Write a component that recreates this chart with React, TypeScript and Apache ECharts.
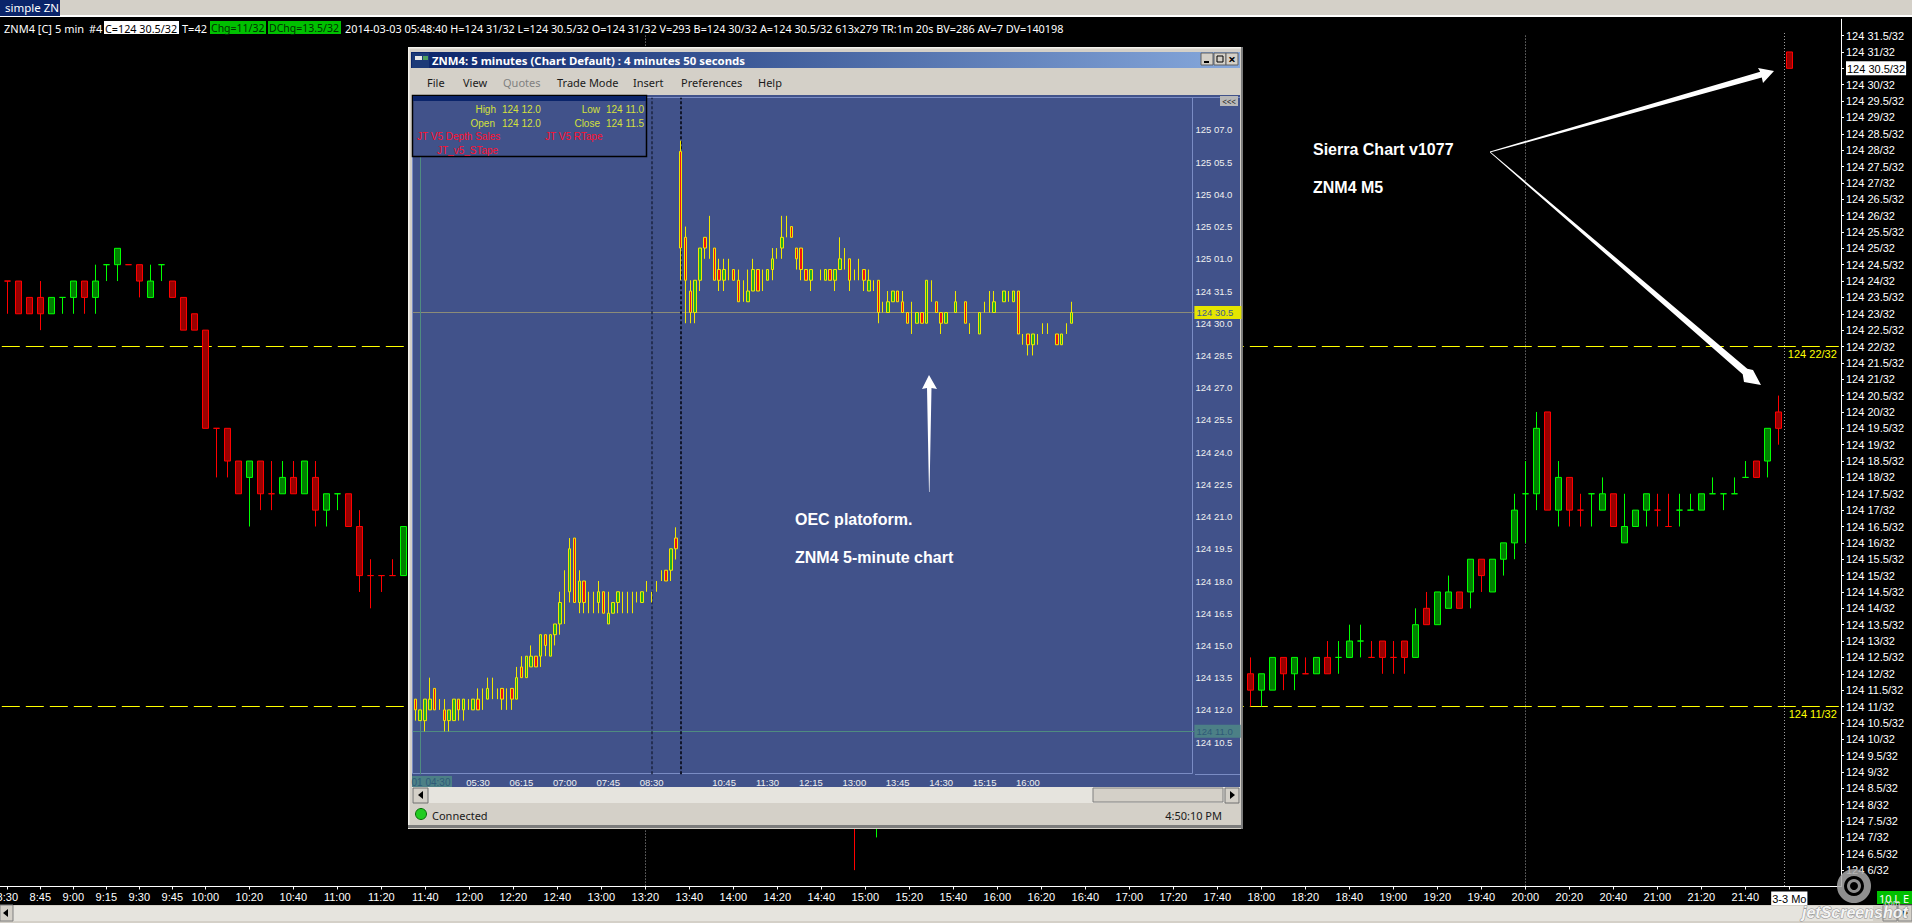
import React, { useEffect, useRef } from "react";
import * as echarts from "echarts";

// ---------- main (Sierra Chart) values: prices are 32nds above 124 ----------
const mainYMin = 5.5;
const mainYMax = 32;
const highlightedTick = 30.5;
// [open, close, low, high, direction]
const mainBarsLeft: number[][] = [
  [24, 24, 23, 24, -1], [24, 23, 23, 24, -1], [23.5, 23, 23, 23.5, -1], [23.5, 23, 22.5, 24, -1],
  [23, 23.5, 23, 23.5, 1], [23.5, 23.5, 23, 23.5, 1], [23.5, 24, 23, 24, 1], [24, 23.5, 23, 24, -1],
  [23.5, 24, 23, 24.5, 1], [24.5, 24.5, 24, 24.5, 1], [24.5, 25, 24, 25, 1], [24.5, 24.5, 24.5, 24.5, -1],
  [24.5, 24, 23.5, 24.5, -1], [23.5, 24, 23.5, 24.5, 1], [24.5, 24.5, 24, 24.5, 1], [24, 23.5, 23.5, 24, -1],
  [23.5, 22.5, 22.5, 23.5, -1], [23, 22.5, 22.5, 23, -1], [22.5, 19.5, 19.5, 22.5, -1], [19.5, 19.5, 18, 19.5, -1],
  [19.5, 18.5, 18, 19.5, -1], [18.5, 17.5, 17.5, 18.5, -1], [18, 18.5, 16.5, 18.5, 1], [18.5, 17.5, 17, 18.5, -1],
  [17.5, 17.5, 17, 18.5, -1], [17.5, 18, 17.5, 18.5, 1], [18, 17.5, 17.5, 18.5, -1], [17.5, 18.5, 17.5, 18.5, 1],
  [18, 17, 16.5, 18.5, -1], [17, 17.5, 16.5, 17.5, 1], [17.5, 17.5, 17, 17.5, 1], [17.5, 16.5, 16.5, 17.5, -1],
  [16.5, 15, 14.5, 17, -1], [15, 15, 14, 15.5, -1], [15, 15, 14.5, 15, -1], [15, 15, 15, 15.5, -1],
  [15, 16.5, 15, 16.5, 1],
];
// bars mostly hidden behind the floating window: only their lower wicks peek out
const mainBarsPeek: Record<number, number[]> = {
  77: [8, 7.5, 6, 8.5, -1],
  79: [7.5, 8, 7, 8, 1],
};
const mainBarsRightStart = 113;
const mainBarsRight: number[][] = [
  [12, 11.5, 11, 12.5, -1], [11.5, 12, 11, 12, 1], [11.5, 12.5, 11.5, 12.5, 1], [12.5, 12, 11.5, 12.5, -1],
  [12, 12.5, 11.5, 12.5, 1], [12, 12, 12, 12.5, -1], [12, 12.5, 12, 12.5, 1], [12.5, 12, 12, 13, -1],
  [12.5, 12.5, 12, 13, 1], [12.5, 13, 12.5, 13.5, 1], [13, 13, 12.5, 13.5, 1], [12.5, 12.5, 12.5, 13, -1],
  [13, 12.5, 12, 13, -1], [12.5, 12.5, 12, 13, -1], [13, 12.5, 12, 13, -1], [12.5, 13.5, 12.5, 14, 1],
  [14, 13.5, 13.5, 14.5, -1], [13.5, 14.5, 13.5, 14.5, 1], [14, 14.5, 14, 15, 1], [14.5, 14, 14, 14.5, -1],
  [14.5, 15.5, 14, 15.5, 1], [15.5, 15, 14.5, 15.5, -1], [14.5, 15.5, 14.5, 15.5, 1], [15.5, 16, 15, 16, 1],
  [16, 17, 15.5, 17.5, 1], [17.5, 17.5, 16, 18.5, 1], [17.5, 19.5, 17, 20, 1], [20, 17, 17, 20, -1],
  [17, 18, 16.5, 18.5, 1], [18, 17, 16.5, 18, -1], [17, 17, 16.5, 17.5, -1], [17.5, 17.5, 16.5, 17.5, 1],
  [17, 17.5, 17, 18, 1], [17.5, 16.5, 16.5, 17.5, -1], [16, 16.5, 16, 17.5, 1], [16.5, 17, 16.5, 17, 1],
  [17, 17.5, 16.5, 17.5, 1], [17, 17, 16.5, 17.5, -1], [16.5, 16.5, 16.5, 17.5, -1], [17, 17, 16.5, 17.5, 1],
  [17, 17, 17, 17.5, 1], [17, 17.5, 17, 17.5, 1], [17.5, 17.5, 17.5, 18, 1], [17.5, 17.5, 17, 17.5, 1],
  [17.5, 17.5, 17.5, 18, 1], [18, 18, 18, 18.5, 1], [18.5, 18, 18, 18.5, -1], [18.5, 19.5, 18, 19.5, 1],
  [20, 19.5, 19, 20.5, -1], [31, 30.5, 30.5, 31, -1],
];
const levelLines = [
  { value: 22, label: "124 22/32" },
  { value: 11, label: "124 11/32" },
];
const dottedBarIndexes = [58, 138];

// x axis of the main chart: one category per 5 minute bar, starting at 8:30
const mainCategoryCount = 167;
const mainFirstMinute = 8 * 60 + 30;
const dateBreakLabel = "3-3 Mo";
const dateBreakIndex = 162;
const mainCategories: string[] = [];
for (let i = 0; i < mainCategoryCount; i++) {
  const m = mainFirstMinute + i * 5;
  mainCategories.push(
    i === dateBreakIndex ? dateBreakLabel : `${Math.floor(m / 60)}:${String(m % 60).padStart(2, "0")}`,
  );
}
const isMainTick = (i: number) => i <= dateBreakIndex && (i <= 18 ? i % 3 === 0 : (i - 18) % 4 === 0);

// ---------- OEC window chart values: 32nds above 124 as well ----------
const innerYMin = 9;
const innerYMax = 40.5;
const innerCurrent = 30.5;
const innerLow = 11;
const innerCategoryCount = 162;
const innerTickLabels: Record<number, string> = {
  13: "05:30", 22: "06:15", 31: "07:00", 40: "07:45", 49: "08:30", 64: "10:45", 73: "11:30",
  82: "12:15", 91: "13:00", 100: "13:45", 109: "14:30", 118: "15:15", 127: "16:00",
};
// [open, close, low, high, kind] where kind is R red body, G green body, L plain line
type Inner = [number, number, number, number, string] | null;
const innerBars: Inner[] = [
  [12.5, 12, 11.5, 12.5, "R"], [11.5, 12, 11.5, 12, "G"], [11.5, 12.5, 11, 12.5, "G"], [12, 12.5, 12, 13.5, "G"],
  [13, 12, 12, 13, "R"], [12, 12, 12, 12.5, "L"], [12, 11.5, 11, 12.5, "R"], [11.5, 12, 11, 12, "G"],
  [11.5, 12.5, 11.5, 12.5, "G"], [12.5, 12, 11.5, 12.5, "R"], [12, 12.5, 11.5, 12.5, "G"], [12, 12, 12, 12.5, "L"],
  [12, 12.5, 12, 12.5, "G"], [12.5, 12, 12, 13, "R"], [12, 12, 12, 13, "L"], [12.5, 13, 12.5, 13.5, "G"],
  [12.5, 12.5, 12.5, 13.5, "L"], [12.5, 12.5, 12.5, 13, "L"], [13, 12.5, 12, 13, "R"], [12, 12, 12, 13, "L"],
  [13, 12.5, 12, 13, "R"], [12.5, 13.5, 12.5, 14, "G"], [14, 13.5, 13.5, 14.5, "R"], [13.5, 14.5, 13.5, 14.5, "G"],
  [14, 14.5, 14, 15, "G"], [14.5, 14, 14, 14.5, "R"], [14.5, 15.5, 14, 15.5, "G"], [15.5, 15, 14.5, 15.5, "R"],
  [14.5, 15.5, 14.5, 15.5, "G"], [15.5, 16, 15, 16, "G"], [16, 17, 15.5, 17.5, "G"], [16, 16, 16, 18.5, "L"],
  [17.5, 19.5, 17, 20, "G"], [20, 17, 17, 20, "R"], [17, 18, 16.5, 18.5, "G"], [18, 17, 16.5, 18, "R"],
  [16.5, 16.5, 16.5, 17.5, "L"], [16.5, 16.5, 16.5, 17.5, "L"], [17, 17.5, 16.5, 18, "G"], [17.5, 16.5, 16.5, 17.5, "R"],
  [16, 16.5, 16, 17.5, "G"], [16.5, 17, 16.5, 17, "G"], [17, 17.5, 16.5, 17.5, "G"], [16.5, 16.5, 16.5, 17.5, "L"],
  [16.5, 16.5, 16.5, 17.5, "L"], [16.5, 16.5, 16.5, 17.5, "L"], [17, 17, 17, 17.5, "L"], [17, 17.5, 17, 17.5, "G"],
  [17.5, 17.5, 17.5, 18, "L"], [17, 17, 17, 17.5, "L"], [17.5, 17.5, 17.5, 18, "L"], [18, 18, 18, 18.5, "L"],
  [18.5, 18, 18, 18.5, "R"], [18.5, 19.5, 18, 19.5, "G"], [20, 19.5, 19, 20.5, "R"],
  [38, 33.5, 32, 38.5, "R"], [34, 32, 30, 34.5, "R"], [31.5, 30.5, 30, 32, "R"], [30.5, 32, 30, 32, "G"],
  [32, 33.5, 31.5, 33.5, "G"], [34, 33.5, 33, 34, "R"], [33, 33, 33, 35, "L"], [33.5, 32, 32, 33.5, "R"],
  [32.5, 32, 31.5, 33, "R"], [32, 32.5, 31.5, 33, "G"], [32, 32, 32, 33, "L"], [32.5, 32, 32, 32.5, "R"],
  [32, 31, 31, 32.5, "R"], [31, 31, 31, 32, "L"], [31, 31.5, 31, 32.5, "G"], [31.5, 32.5, 31.5, 33, "G"],
  [32.5, 31.5, 31.5, 32.5, "R"], [31.5, 31.5, 31.5, 32.5, "L"], [32, 32.5, 32, 32.5, "G"], [32.5, 33, 32, 33.5, "G"],
  [33, 33, 33, 33.5, "L"], [33.5, 34, 33, 35, "G"], [34, 34, 34, 35, "L"], [34.5, 34, 34, 34.5, "R"],
  [33.5, 33, 32.5, 33.5, "R"], [33.5, 32.5, 32, 33.5, "R"], [32.5, 32, 32, 32.5, "R"], [32, 32.5, 31.5, 32.5, "G"],
  null,
  [32, 32, 32, 32.5, "L"], [32, 32.5, 32, 32.5, "G"], [32.5, 32, 32, 32.5, "R"], [32, 32.5, 31.5, 32.5, "G"],
  [32.5, 33, 32.5, 34, "G"], [32.5, 32.5, 32.5, 33.5, "L"], [33, 32, 31.5, 33, "R"], [32, 32, 32, 32.5, "L"],
  [32, 32, 32, 33, "L"], [32.5, 32, 31.5, 32.5, "R"], [31.5, 32, 31.5, 32.5, "G"], [31.5, 31.5, 31.5, 32, "L"],
  [32, 30.5, 30, 32, "R"], [30.5, 30.5, 30.5, 31, "L"], [30.5, 31, 30.5, 31.5, "G"], [31, 31.5, 31, 31.5, "G"],
  [31.5, 31, 31, 31.5, "R"], [31, 30.5, 30.5, 31.5, "R"], [30.5, 30, 30, 30.5, "R"], [29.5, 29.5, 29.5, 31, "L"],
  [30, 30.5, 30, 30.5, "G"], [30.5, 30, 30, 30.5, "R"], [30, 32, 30, 32, "G"], [31, 31, 31, 32, "L"],
  [31, 30.5, 30.5, 31, "R"], [30.5, 30, 29.5, 30.5, "R"], [30, 30.5, 30, 30.5, "G"],
  null,
  [30.5, 31, 30.5, 31.5, "G"],
  null,
  [31, 30, 30, 31, "R"], [29.5, 29.5, 29.5, 30, "L"],
  null,
  [29.5, 30.5, 29.5, 30.5, "G"], [30.5, 30.5, 30.5, 31, "L"], [30.5, 30.5, 30.5, 31.5, "L"], [30.5, 31, 30.5, 31.5, "G"],
  null,
  [31, 31.5, 31, 31.5, "G"], [31, 31, 31, 31.5, "L"], [31, 31.5, 31, 31.5, "G"], [31.5, 29.5, 29.5, 31.5, "R"],
  [29, 29, 29, 29.5, "L"], [29.5, 29, 28.5, 29.5, "R"], [29, 29.5, 28.5, 29.5, "G"], [29, 29, 29, 29.5, "L"],
  [29.5, 29.5, 29.5, 30, "L"], [29.5, 29.5, 29.5, 30, "L"],
  null,
  [29.5, 29, 29, 29.5, "R"], [29, 29.5, 29, 29.5, "G"], [29.5, 29.5, 29.5, 30, "L"], [30, 30.5, 30, 31, "G"],
];

// ---------- texts ----------
const statusLeft = [
  { text: "ZNM4 [C]", x: 4 },
  { text: "5 min", x: 55 },
  { text: "#4", x: 89 },
];
const statusQuote = "C=124 30.5/32";
const statusTrades = "T=42";
const statusChg = "Chg=11/32";
const statusDChg = "DChg=13.5/32";
const statusRest =
  "2014-03-03 05:48:40 H=124 31/32 L=124 30.5/32 O=124 31/32 V=293 B=124 30/32 A=124 30.5/32 613x279 TR:1m 20s BV=286 AV=7 DV=140198";
const menuItems = [
  { text: "File", x: 427 },
  { text: "View", x: 463 },
  { text: "Quotes", x: 503, fill: "#808080" },
  { text: "Trade Mode", x: 557 },
  { text: "Insert", x: 633 },
  { text: "Preferences", x: 681 },
  { text: "Help", x: 758 },
];

const SANS = "'Noto Sans', sans-serif";
const SMALL = "'Liberation Sans', Arial, sans-serif";
const BOLD = "'Liberation Sans', Arial, sans-serif";
const SMALL_SIZE = 9.5;

const WINDOW_Z = 5;
const CHROME_Z = 9;
const TOP_Z = 20;

function rect(x: number, y: number, w: number, h: number, fill: any, z = CHROME_Z, extra: any = {}) {
  return { type: "rect", z, silent: true, shape: { x, y, width: w, height: h }, style: { fill, ...extra } };
}
function text(t: string, x: number, y: number, fill: string, opts: any = {}) {
  const { z = CHROME_Z, fontSize = 12, fontFamily = SANS, fontWeight = "normal", align = "left", fontStyle = "normal", stroke, lineWidth } = opts;
  return {
    type: "text", z, silent: true, x, y,
    style: {
      text: t, fill, fontSize, fontFamily, fontWeight, fontStyle, textAlign: align, textVerticalAlign: "middle",
      ...(stroke ? { stroke, lineWidth } : {}),
    },
  };
}
function poly(points: number[][], fill: any, z = TOP_Z) {
  return { type: "polygon", z, silent: true, shape: { points }, style: { fill } };
}

function buildGraphic() {
  const tan = "#d4d0c8";
  const e: any[] = [];
  // top tab strip and status line of the main window
  e.push(rect(0, 0, 1912, 15, tan, TOP_Z));
  e.push(rect(0, 15, 1912, 2, "#ffffff", TOP_Z));
  e.push(rect(0, 0, 60, 16, "#0a246a", TOP_Z));
  e.push(text("simple ZN", 5, 7, "#ffffff", { z: TOP_Z + 1, fontSize: 11.5 }));
  statusLeft.forEach((s) => e.push(text(s.text, s.x, 28, "#ffffff", { fontSize: 11, z: TOP_Z })));
  e.push(rect(104, 21, 75, 13, "#ffffff", TOP_Z));
  e.push(text(statusQuote, 105, 28, "#000000", { fontSize: 10.8, z: TOP_Z + 1 }));
  e.push(text(statusTrades, 182, 28, "#ffffff", { fontSize: 11, z: TOP_Z }));
  e.push(rect(210, 21, 56, 13, "#00c000", TOP_Z));
  e.push(text(statusChg, 211, 28, "#003000", { fontSize: 10.5, z: TOP_Z + 1 }));
  e.push(rect(268, 21, 73, 13, "#00c000", TOP_Z));
  e.push(text(statusDChg, 269, 28, "#003000", { fontSize: 10.5, z: TOP_Z + 1 }));
  e.push(text(statusRest, 345, 28, "#ffffff", { fontSize: 10.85, z: TOP_Z }));

  // extends the x axis line to the edges of the plot
  e.push({ type: "line", z: 1, silent: true, shape: { x1: 0, y1: 886.5, x2: 1841, y2: 886.5 }, style: { stroke: "#ffffff", lineWidth: 1 } });

  // bottom scrollbar, badge and watermark
  e.push(rect(0, 905, 1912, 18, tan, 3));
  e.push(rect(13, 906, 1860, 15, "#e6e4de", 3));
  e.push(rect(0, 905, 13, 16, tan, 3, { stroke: "#808080", lineWidth: 1 }));
  e.push(poly([[8, 909], [8, 917], [3, 913]], "#000000", 4));
  e.push(rect(1883, 905, 14, 16, tan, 3, { stroke: "#808080", lineWidth: 1 }));
  e.push(rect(1898, 905, 14, 16, tan, 3, { stroke: "#808080", lineWidth: 1 }));
  e.push(poly([[1903, 909], [1903, 917], [1908, 913]], "#000000", 4));
  e.push(rect(1877, 891, 35, 13, "#00c000", 3));
  e.push(text("10 L E", 1894, 898, "#ffffff", { align: "center", z: 4, fontSize: 11 }));
  e.push({ type: "ring", z: 4, silent: true, shape: { cx: 1854, cy: 886, r: 17, r0: 10 }, style: { fill: "#a8a8a8", opacity: 0.85 } });
  e.push({ type: "ring", z: 4, silent: true, shape: { cx: 1854, cy: 886, r: 7, r0: 4 }, style: { fill: "#a8a8a8", opacity: 0.85 } });
  e.push(text("jetScreenshot", 1802, 912, "#f4f4f4", { z: 4, fontSize: 16, fontWeight: "bold", fontStyle: "italic", fontFamily: BOLD, stroke: "#8c8c8c", lineWidth: 1 }));
  e.push(text(".com", 1882, 902, "#d8d8d8", { z: 4, fontSize: 8 }));

  // floating OEC window
  e.push(rect(408, 47, 835, 782, tan, WINDOW_Z));
  e.push(rect(408, 47, 835, 1.5, "#f4f2ec", WINDOW_Z));
  e.push(rect(408, 47, 1.5, 782, "#f4f2ec", WINDOW_Z));
  e.push(rect(408, 825, 835, 3, "#7c7c7c", WINDOW_Z));
  e.push(rect(1241, 47, 2, 782, "#7c7c7c", WINDOW_Z));
  e.push(rect(411, 52, 829, 16,
    new echarts.graphic.LinearGradient(0, 0, 1, 0, [{ offset: 0, color: "#0a246a" }, { offset: 1, color: "#86a8dc" }]),
    WINDOW_Z));
  e.push(rect(412, 53, 17, 15, "#1c3a78", CHROME_Z));
  e.push(rect(415, 56, 7, 4, "#e8e8e8", CHROME_Z));
  e.push(rect(423, 56, 5, 4, "#50a060", CHROME_Z));
  e.push(text("ZNM4: 5 minutes (Chart Default) : 4 minutes 50 seconds", 432, 60, "#ffffff", { fontSize: 11.4, fontWeight: "bold" }));
  // caption buttons
  [1201, 1214, 1226].forEach((x) => e.push(rect(x, 53, 12, 12, tan, CHROME_Z, { stroke: "#606060", lineWidth: 1 })));
  e.push(rect(1204, 61, 5, 2, "#000000"));
  e.push(rect(1217, 56, 6, 6, "none", CHROME_Z, { stroke: "#000000", lineWidth: 1 }));
  e.push(text("×", 1232, 59, "#000000", { align: "center", fontSize: 13, fontWeight: "bold" }));
  menuItems.forEach((m) => e.push(text(m.text, m.x, 82, m.fill ?? "#1a1a1a", { fontSize: 11 })));
  // chart surface
  e.push(rect(412, 95, 828, 692, "#41528a", WINDOW_Z));
  // frame of the plot and of the price column
  e.push(rect(412.5, 97.5, 780, 676, "none", 6, { stroke: "#7a8cc4", lineWidth: 1 }));
  e.push(rect(1195, 774, 45, 1, "#7a8cc4", 6));
  e.push(rect(1192, 97, 48, 1, "#7a8cc4", 6));
  // collapse button
  e.push(rect(1220, 96, 18, 10, "#b8b8b8", CHROME_Z));
  e.push(text("<<<", 1229, 101, "#202020", { align: "center", fontSize: 8 }));
  // OHLC info panel
  e.push(rect(412.5, 95.5, 234, 61, "#41528a", CHROME_Z, { stroke: "#000000", lineWidth: 1.5 }));
  e.push(rect(413, 96, 233, 5, "#0a246a", CHROME_Z));
  const ink = "#d4e03c";
  const redInk = "#ff1030";
  const small = { fontSize: 10, fontFamily: SMALL };
  e.push(text("High", 496, 109, ink, { ...small, align: "right" }));
  e.push(text("124 12.0", 502, 109, ink, small));
  e.push(text("Low", 600, 109, ink, { ...small, align: "right" }));
  e.push(text("124 11.0", 606, 109, ink, small));
  e.push(text("Open", 495, 123, ink, { ...small, align: "right" }));
  e.push(text("124 12.0", 502, 123, ink, small));
  e.push(text("Close", 600, 123, ink, { ...small, align: "right" }));
  e.push(text("124 11.5", 606, 123, ink, small));
  e.push(text("JT V5 Depth Sales", 417, 136, redInk, small));
  e.push(text("JT V5 RTape", 545, 136, redInk, small));
  e.push(text("JT_v5_STape", 437, 150, redInk, small));
  // first date label on the time scale
  e.push(rect(412, 776, 40, 11, "#4c8086", CHROME_Z));
  e.push(text("01 04:30", 431, 782, "#2f5a78", { ...small, align: "center" }));
  // window scrollbar and status line
  e.push(rect(412, 787, 828, 16, "#e6e4de", CHROME_Z));
  e.push(rect(413, 788, 15, 15, tan, CHROME_Z, { stroke: "#707070", lineWidth: 1 }));
  e.push(poly([[423, 791], [423, 799], [418, 795]], "#000000", CHROME_Z));
  e.push(rect(1093, 788, 130, 14, tan, CHROME_Z, { stroke: "#808080", lineWidth: 1 }));
  e.push(rect(1225, 788, 14, 15, tan, CHROME_Z, { stroke: "#707070", lineWidth: 1 }));
  e.push(poly([[1230, 791], [1230, 799], [1235, 795]], "#000000", CHROME_Z));
  e.push({ type: "circle", z: CHROME_Z, silent: true, shape: { cx: 421, cy: 814, r: 5.5 }, style: { fill: "#22cc22", stroke: "#0a6a0a", lineWidth: 1 } });
  e.push(text("Connected", 432, 815, "#1a1a1a", { fontSize: 11 }));
  e.push(text("4:50:10 PM", 1222, 815, "#1a1a1a", { fontSize: 11, align: "right" }));

  // annotations
  const note = { z: TOP_Z, fontSize: 16, fontWeight: "bold", fontFamily: BOLD };
  e.push(text("Sierra Chart v1077", 1313, 149, "#ffffff", note));
  e.push(text("ZNM4 M5", 1313, 187, "#ffffff", note));
  e.push(text("OEC platoform.", 795, 519, "#ffffff", note));
  e.push(text("ZNM4 5-minute chart", 795, 557, "#ffffff", note));
  e.push(poly([[1490, 151.4], [1760.2, 71.8], [1758, 68], [1774, 71], [1763, 83], [1761.8, 77.6], [1490, 152.6]], "#ffffff"));
  e.push(poly([[1490, 151.4], [1747.3, 368.8], [1753, 370], [1761, 385], [1744, 382], [1742.7, 374.2], [1490, 152.6]], "#ffffff"));
  e.push(poly([[929, 375], [937, 389], [931.5, 388], [929.5, 492], [929, 492], [927, 388], [922, 389]], "#ffffff"));
  return e;
}

function App() {
  const ref = useRef<HTMLDivElement>(null);
  useEffect(() => {
    document.body.style.margin = "0";
    document.body.style.background = "#000";
    document.body.style.overflow = "hidden";
    const chart = echarts.init(ref.current!, null, { renderer: "svg" });

    const empty = ["-", "-", "-", "-"];
    const mainAt: (number[] | null)[] = new Array(mainCategoryCount).fill(null);
    mainBarsLeft.forEach((b, i) => (mainAt[i] = b));
    Object.keys(mainBarsPeek).forEach((k) => (mainAt[+k] = mainBarsPeek[+k]));
    mainBarsRight.forEach((b, i) => (mainAt[mainBarsRightStart + i] = b));
    const pick = (dir: number) => mainAt.map((b) => (b && b[4] === dir ? b.slice(0, 4) : empty));
    const pickInner = (kind: string) => {
      const out: any[] = [];
      for (let i = 0; i < innerCategoryCount; i++) {
        const b = innerBars[i];
        out.push(b && b[4] === kind ? b.slice(0, 4) : empty);
      }
      return out;
    };
    const innerCategories: string[] = [];
    for (let i = 0; i < innerCategoryCount; i++) innerCategories.push(innerTickLabels[i] ?? "");

    const candleStyle = (fill: string, border: string) => ({
      color: fill, color0: fill, borderColor: border, borderColor0: border, borderColorDoji: border, borderWidth: 1,
    });
    const dotted = { color: "#a0a0a0", type: [1, 2] as any, width: 1 };
    const dash = { color: "#ffff00", type: [18, 6] as any, width: 1 };

    const mainMarkLine = {
      symbol: "none", silent: true, z: 2, animation: false,
      label: { show: false },
      data: [
        ...levelLines.map((l) => ({
          yAxis: l.value, lineStyle: dash,
          label: {
            show: true, formatter: l.label, position: "insideEndBottom", color: "#ffff00",
            fontSize: 11, fontFamily: SMALL, distance: 2,
          },
        })),
        ...dottedBarIndexes.map((i) => [
          { xAxis: i, yAxis: 31.5, lineStyle: dotted },
          { xAxis: i, yAxis: mainYMin },
        ]),
        // session break line sits between two bars, so it is placed by pixel
        [{ x: 1784.5, y: 33, lineStyle: dotted }, { x: 1784.5, y: 887 }],
      ],
    };
    const innerGuide = (color: string) => ({ color, type: "solid" as const, width: 1 });
    const innerMarkLine = {
      symbol: "none", silent: true, z: 8, animation: false,
      label: { show: false },
      data: [
        {
          yAxis: innerCurrent, lineStyle: innerGuide("#8b8c78"),
          label: {
            show: true, position: "end", formatter: "124 30.5", color: "#3c5c90", backgroundColor: "#e6e600",
            padding: [2, 8, 1, 2], fontSize: SMALL_SIZE, fontFamily: SMALL, distance: 0,
          },
        },
        {
          yAxis: innerLow, lineStyle: innerGuide("#4f8c80"),
          label: {
            show: true, position: "end", formatter: "124 11.0", color: "#2f5a78", backgroundColor: "#4c8086",
            padding: [2, 8, 1, 2], fontSize: SMALL_SIZE, fontFamily: SMALL, distance: 0,
          },
        },
        { xAxis: 1, lineStyle: innerGuide("#4f8c80") },
        { xAxis: 49, lineStyle: { color: "#1b2440", type: [3, 2] as any, width: 1.5 } },
        { xAxis: 55, lineStyle: { color: "#10162a", type: [3, 2] as any, width: 2 } },
      ],
    };

    const innerPrice = (v: number) => {
      if (v === innerYMin || v === innerYMax) return "";
      const hi = v >= 32;
      const part = hi ? v - 32 : v;
      const whole = Math.floor(part);
      const frac = part - whole === 0 ? "0" : "5";
      const s = `${String(whole).padStart(2, "0")}.${frac}`;
      return `${hi ? 125 : 124} ${s}`;
    };
    const yTicks: number[] = [];
    for (let v = 6; v <= 31.5; v += 0.5) yTicks.push(v);

    chart.setOption({
      animation: false,
      backgroundColor: "#000000",
      tooltip: { show: false },
      grid: [
        { left: 1.8, top: 19.23, width: 1837, height: 867.27, z: 1, outerBoundsMode: "none" },
        { left: 412.9, top: 97.7, width: 781.5, height: 676.62, z: 6, outerBoundsMode: "none" },
      ],
      xAxis: [
        {
          type: "category", gridIndex: 0, data: mainCategories, z: 1,
          axisLine: { show: true, lineStyle: { color: "#ffffff", width: 1 } },
          axisTick: { show: true, alignWithLabel: true, interval: (i: number) => isMainTick(i), length: 3, lineStyle: { color: "#ffffff" } },
          axisLabel: {
            interval: (i: number) => isMainTick(i), color: "#ffffff", fontSize: 11, fontFamily: SMALL, margin: 5,
            hideOverlap: false, showMinLabel: true,
            formatter: (v: string) => (v === dateBreakLabel ? `{hl|${v}}` : v),
            rich: { hl: { backgroundColor: "#ffffff", color: "#000000", fontSize: 11, fontFamily: SMALL, padding: [2, 1, 1, 1] } },
          },
          splitLine: { show: false },
        },
        {
          type: "category", gridIndex: 1, data: innerCategories, z: 7,
          axisLine: { show: false }, axisTick: { show: false },
          axisLabel: {
            interval: 0, color: "#f0f0f0", fontSize: SMALL_SIZE, fontFamily: SMALL, margin: 3, hideOverlap: false,
          },
          splitLine: { show: false },
        },
      ],
      yAxis: [
        {
          type: "value", gridIndex: 0, position: "right", offset: 2.2, min: mainYMin, max: mainYMax, interval: 0.5, z: 1,
          axisLine: { show: true, lineStyle: { color: "#ffffff", width: 1 } },
          axisTick: { show: true, length: 3, customValues: yTicks, lineStyle: { color: "#ffffff" } },
          axisLabel: {
            color: "#ffffff", fontSize: 11, fontFamily: SMALL, margin: 5, customValues: yTicks, hideOverlap: false,
            formatter: (v: number) => {
              const s = `124 ${v}/32`;
              return v === highlightedTick ? `{hl|${s}}` : s;
            },
            rich: { hl: { backgroundColor: "#ffffff", color: "#000000", fontSize: 11, fontFamily: SMALL, padding: [2, 1, 1, 1] } },
          },
          splitLine: { show: false },
        },
        {
          type: "value", gridIndex: 1, position: "right", min: innerYMin, max: innerYMax, interval: 1.5, z: 7,
          axisLine: { show: false }, axisTick: { show: false },
          axisLabel: {
            color: "#f0f0f0", fontSize: SMALL_SIZE, fontFamily: SMALL, margin: 1, hideOverlap: false,
            formatter: (v: number) => innerPrice(v),
          },
          splitLine: { show: false },
        },
      ],
      series: [
        {
          name: "Main up", type: "candlestick", xAxisIndex: 0, yAxisIndex: 0, z: 2, barWidth: 7, clip: false,
          itemStyle: candleStyle("#008000", "#00ff00"), data: pick(1),
        },
        {
          name: "Main down", type: "candlestick", xAxisIndex: 0, yAxisIndex: 0, z: 2, barWidth: 7, clip: false,
          itemStyle: candleStyle("#990000", "#ff0000"), data: pick(-1), markLine: mainMarkLine,
        },
        {
          name: "OEC line", type: "candlestick", xAxisIndex: 1, yAxisIndex: 1, z: 8, barWidth: 1,
          itemStyle: candleStyle("#f0e800", "#f0e800"), data: pickInner("L"), markLine: innerMarkLine,
        },
        {
          name: "OEC up", type: "candlestick", xAxisIndex: 1, yAxisIndex: 1, z: 8, barWidth: 3,
          itemStyle: candleStyle("#20b020", "#f0e800"), data: pickInner("G"),
        },
        {
          name: "OEC down", type: "candlestick", xAxisIndex: 1, yAxisIndex: 1, z: 8, barWidth: 3,
          itemStyle: candleStyle("#f01010", "#f0e800"), data: pickInner("R"),
        },
      ],
      graphic: { elements: buildGraphic() },
    });
    return () => chart.dispose();
  }, []);
  return <div ref={ref} style={{ position: "absolute", left: 0, top: 0, width: 1912, height: 923 }} />;
}

export default App;
